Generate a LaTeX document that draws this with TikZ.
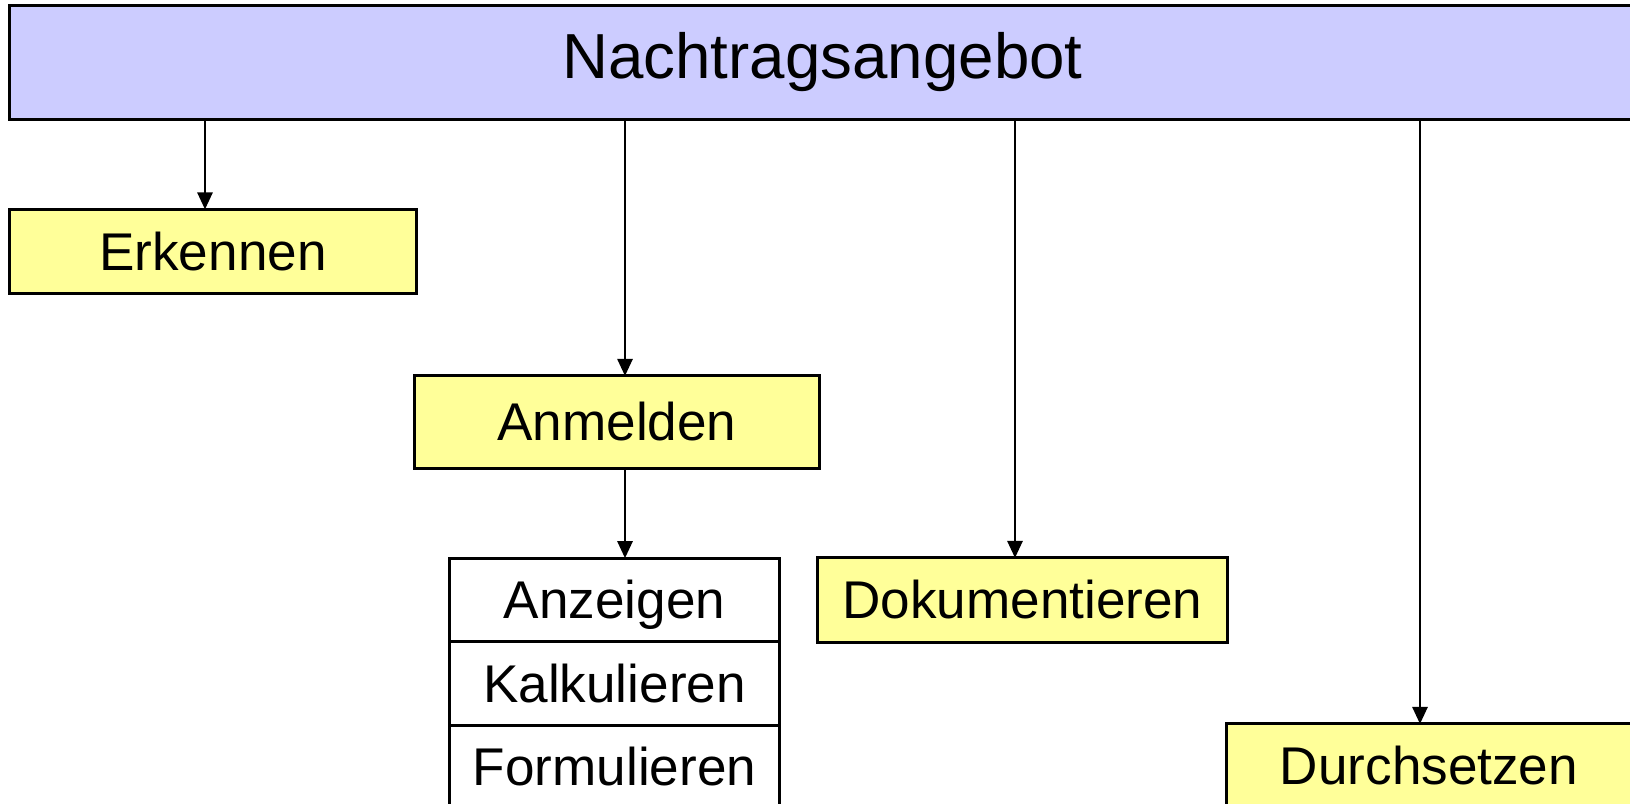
\documentclass[tikz,border=0pt]{standalone}
\usepackage{fontspec}
\setmainfont{Liberation Sans}
\usetikzlibrary{positioning,arrows.meta}
\definecolor{titelblau}{RGB}{204,204,255}
\definecolor{phasegelb}{RGB}{255,255,153}

\begin{document}
\begin{tikzpicture}[x=0.01cm, y=-0.01cm,
  box/.style={draw, line width=0.85pt, inner sep=0pt, outer sep=0pt, text height=1.07em, text depth=0pt, font=\fontsize{15.1}{18}\selectfont},
  phase/.style={box, fill=phasegelb, minimum height=0.84cm},
  teil/.style={box, fill=white, minimum width=3.29cm, minimum height=0.835cm},
  pfeil/.style={-{Triangle[length=1.7mm,width=1.5mm]}, line width=0.75pt}]
\useasboundingbox (0,0) rectangle (1630,804);

\node[draw, fill=titelblau, line width=0.85pt, outer sep=0pt, minimum width=16.25cm, minimum height=1.13cm, font=\fontsize{18.1}{22}\selectfont] (nachtrag) at (822.5,62.5) {Nachtragsangebot};

\node[phase, minimum width=4.06cm] (erkennen) at (213,251.5) {Erkennen};
\node[phase, minimum width=4.04cm, minimum height=0.92cm] (anmelden) at (617,422) {Anmelden};
\node[teil] (anzeigen) at (614.5,600) {Anzeigen};
\node[teil, below=0pt of anzeigen] (kalkulieren) {Kalkulieren};
\node[teil, below=0pt of kalkulieren] (formulieren) {Formulieren};
\node[phase, minimum width=4.09cm] (dokumentieren) at (1022.5,600) {Dokumentieren};
\node[phase, minimum width=4.04cm] (durchsetzen) at (1429,766) {Durchsetzen};

\draw[pfeil] ([xshift=-0.08cm]erkennen.north |- nachtrag.south) -- ([xshift=-0.08cm]erkennen.north);
\draw[pfeil] ([xshift=0.08cm]anmelden.north |- nachtrag.south) -- ([xshift=0.08cm]anmelden.north);
\draw[pfeil] ([xshift=0.08cm]anmelden.south) -- ([xshift=0.08cm]anmelden.south |- anzeigen.north);
\draw[pfeil] ([xshift=-0.075cm]dokumentieren.north |- nachtrag.south) -- ([xshift=-0.075cm]dokumentieren.north);
\draw[pfeil] ([xshift=-0.09cm]durchsetzen.north |- nachtrag.south) -- ([xshift=-0.09cm]durchsetzen.north);
\end{tikzpicture}
\end{document}
